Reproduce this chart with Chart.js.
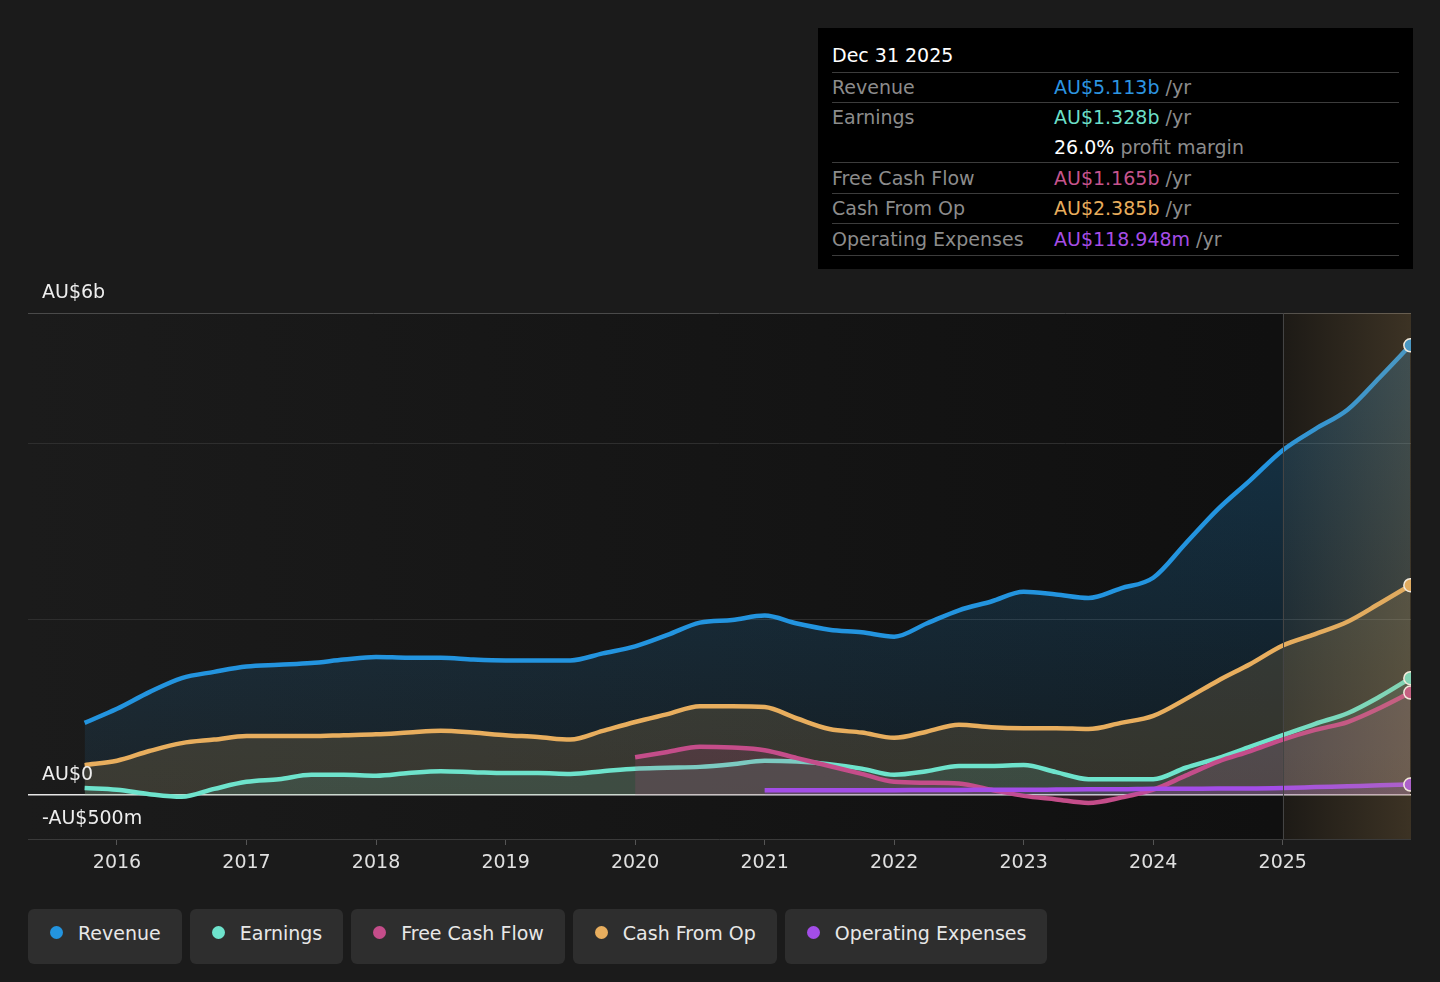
<!DOCTYPE html>
<html>
<head>
<meta charset="utf-8">
<script src="https://cdn.jsdelivr.net/npm/chart.js@4.4.1/dist/chart.umd.min.js"></script>
<style>
html, body { margin: 0; padding: 0; background: #1b1b1b; width: 1440px; height: 982px; overflow: hidden; font-family: "DejaVu Sans", sans-serif; }
#wrap { position: absolute; left: 0; top: 0; width: 1440px; height: 880px; }
#box { position: absolute; left: 818px; top: 28px; width: 595px; height: 241px; background: #000; box-sizing: border-box; padding: 12px 14px 0 14px; font-size: 19px; color: #8c8c8c; }
#box .title { color: #fff; line-height: 30px; margin-bottom: 2px; }
#box .row { border-top: 1px solid #3c3c3c; display: flex; }
#box .row.last { border-bottom: 1px solid #3c3c3c; }
#box .lab { width: 222px; }
#box .val div { white-space: nowrap; }
#legend { position: absolute; left: 28px; top: 909px; display: flex; gap: 8px; }
#legend .pill { height: 55px; box-sizing: border-box; background: #2e2e2e; border-radius: 6px; display: flex; align-items: center; padding: 0 21px 8px 22px; gap: 15px; color: #e8e8e8; font-size: 19px; }
#legend .dot { width: 13px; height: 13px; border-radius: 50%; }
</style>
</head>
<body>
<div id="wrap"><canvas id="chart" width="1440" height="880"></canvas></div>

<div id="box">
  <div class="title">Dec 31 2025</div>
  <div class="row" style="height:29px;line-height:29px"><div class="lab">Revenue</div><div class="val"><div><span style="color:#2d95e0">AU$5.113b</span> /yr</div></div></div>
  <div class="row" style="height:59px;line-height:29.5px"><div class="lab">Earnings</div><div class="val"><div><span style="color:#6cdfc7">AU$1.328b</span> /yr</div><div><span style="color:#fff">26.0%</span> profit margin</div></div></div>
  <div class="row" style="height:30px;line-height:30px"><div class="lab">Free Cash Flow</div><div class="val"><div><span style="color:#c6548d">AU$1.165b</span> /yr</div></div></div>
  <div class="row" style="height:29px;line-height:29px"><div class="lab">Cash From Op</div><div class="val"><div><span style="color:#e8ad5c">AU$2.385b</span> /yr</div></div></div>
  <div class="row last" style="height:31px;line-height:31px"><div class="lab">Operating Expenses</div><div class="val"><div><span style="color:#a64de6">AU$118.948m</span> /yr</div></div></div>
</div>

<div id="legend"></div>

<script>
// quarter ends as decimal years, Sep 2015 .. Dec 2025
const quarters = [2015.75,
  2016.0, 2016.25, 2016.5, 2016.75,
  2017.0, 2017.25, 2017.5, 2017.75,
  2018.0, 2018.25, 2018.5, 2018.75,
  2019.0, 2019.25, 2019.5, 2019.75,
  2020.0, 2020.25, 2020.5, 2020.75,
  2021.0, 2021.25, 2021.5, 2021.75,
  2022.0, 2022.25, 2022.5, 2022.75,
  2023.0, 2023.25, 2023.5, 2023.75,
  2024.0, 2024.25, 2024.5, 2024.75,
  2025.0, 2025.25, 2025.5, 2025.75,
  2025.985];

// values in AU$ billions
const revenue = [0.82,
  0.98, 1.17, 1.33, 1.40,
  1.46, 1.48, 1.50, 1.54,
  1.57, 1.56, 1.56, 1.54,
  1.53, 1.53, 1.53, 1.61,
  1.69, 1.82, 1.96, 1.99,
  2.04, 1.95, 1.88, 1.85,
  1.80, 1.95, 2.10, 2.20,
  2.31, 2.28, 2.24, 2.35,
  2.47, 2.86, 3.25, 3.58,
  3.92, 4.16, 4.38, 4.75,
  5.113];

const cashFromOp = [0.34,
  0.39, 0.50, 0.59, 0.63,
  0.67, 0.67, 0.67, 0.68,
  0.69, 0.71, 0.73, 0.71,
  0.68, 0.66, 0.63, 0.73,
  0.83, 0.92, 1.01, 1.01,
  1.00, 0.87, 0.75, 0.71,
  0.65, 0.72, 0.80, 0.77,
  0.76, 0.76, 0.75, 0.82,
  0.90, 1.09, 1.30, 1.49,
  1.70, 1.83, 1.97, 2.18,
  2.385];

const earnings = [0.08,
  0.06, 0.01, -0.02, 0.07,
  0.15, 0.18, 0.23, 0.23,
  0.22, 0.25, 0.27, 0.26,
  0.25, 0.25, 0.24, 0.27,
  0.30, 0.31, 0.32, 0.35,
  0.39, 0.38, 0.35, 0.30,
  0.23, 0.27, 0.33, 0.33,
  0.34, 0.26, 0.18, 0.18,
  0.18, 0.31, 0.42, 0.55,
  0.68, 0.81, 0.93, 1.12,
  1.328];

const freeCashFlow = [null,
  null, null, null, null,
  null, null, null, null,
  null, null, null, null,
  null, null, null, null,
  0.43, 0.49, 0.55, 0.54,
  0.51, 0.42, 0.33, 0.24,
  0.15, 0.14, 0.13, 0.06,
  -0.01, -0.05, -0.09, -0.03,
  0.06, 0.22, 0.38, 0.50,
  0.63, 0.74, 0.83, 0.99,
  1.165];

const opExpenses = [null,
  null, null, null, null,
  null, null, null, null,
  null, null, null, null,
  null, null, null, null,
  null, null, null, null,
  0.055, 0.055, 0.055, 0.055,
  0.055, 0.058, 0.058, 0.06,
  0.06, 0.062, 0.065, 0.065,
  0.07, 0.07, 0.075, 0.075,
  0.08, 0.09, 0.10, 0.11,
  0.119];

const yearTicks = [2016, 2017, 2018, 2019, 2020, 2021, 2022, 2023, 2024, 2025];
const yGrid = [-0.5, 0, 2, 4, 5.48];
const yLabels = ['AU$6b', 'AU$0', '-AU$500m'];
const yLabelAt = [5.48, 0, -0.5];
const highlightFrom = 2025;

const FONT = '"DejaVu Sans", sans-serif';

const colors = {
    revenue: '#2394df',
    earnings: '#6ee3cc',
    fcf: '#c44d8a',
    cfo: '#e8ae5e',
    opex: '#a34de8'
};

// revenue fill fades from the top of the plot down to zero
function revenueFill(c) {
    const chart = c.chart;
    const a = chart.chartArea;
    if (!a) return 'rgba(35,148,223,0.15)';
    const zero = chart.scales.y.getPixelForValue(0);
    const g = chart.ctx.createLinearGradient(0, a.top, 0, zero);
    g.addColorStop(0, 'rgba(35,148,223,0.30)');
    g.addColorStop(1, 'rgba(35,148,223,0.08)');
    return g;
}

function series(label, values, color, fill) {
    return {
        label: label,
        data: values.map((v, i) => ({ x: quarters[i], y: v })).filter(p => p.y !== null),
        borderColor: color,
        backgroundColor: fill,
        fill: 'origin',
        borderWidth: 4.5,
        cubicInterpolationMode: 'monotone',
        pointRadius: c => c.dataIndex === c.dataset.data.length - 1 ? 6.5 : 0,
        pointBackgroundColor: color,
        pointBorderColor: '#ffffff',
        pointBorderWidth: 1.5,
        clip: 0
    };
}

const backdrop = {
    id: 'backdrop',
    beforeDraw(chart) {
        const { ctx, chartArea: a } = chart;
        ctx.save();
        const g = ctx.createLinearGradient(a.left, 0, a.right, 0);
        g.addColorStop(0, '#1b1b1b');
        g.addColorStop(0.9, '#101010');
        ctx.fillStyle = g;
        ctx.fillRect(a.left, a.top, a.width, a.height);
        ctx.restore();
    },
    afterDatasetsDraw(chart) {
        const { ctx, chartArea: a, scales: { x, y } } = chart;
        ctx.save();
        const fx = x.getPixelForValue(highlightFrom);
        const h = ctx.createLinearGradient(fx, 0, a.right, 0);
        h.addColorStop(0, 'rgba(200,160,100,0.07)');
        h.addColorStop(1, 'rgba(200,160,100,0.24)');
        ctx.fillStyle = h;
        ctx.fillRect(fx, a.top, a.right - fx, a.height);
        ctx.strokeStyle = '#444444';
        ctx.lineWidth = 1;
        ctx.beginPath();
        ctx.moveTo(Math.round(fx) + 0.5, a.top);
        ctx.lineTo(Math.round(fx) + 0.5, a.bottom);
        ctx.stroke();

        ctx.fillStyle = '#eeeeee';
        ctx.font = '19px ' + FONT;
        ctx.textBaseline = 'middle';
        ctx.textAlign = 'left';
        yLabels.forEach((t, i) => {
            ctx.fillText(t, 42, y.getPixelForValue(yLabelAt[i]) - 20);
        });
        ctx.restore();
    }
};

new Chart(document.getElementById('chart'), {
    type: 'line',
    data: {
        datasets: [
            series('Operating Expenses', opExpenses, colors.opex, 'rgba(163,77,232,0.15)'),
            series('Free Cash Flow', freeCashFlow, colors.fcf, 'rgba(196,77,138,0.16)'),
            series('Earnings', earnings, colors.earnings, 'rgba(110,227,204,0.13)'),
            series('Cash From Op', cashFromOp, colors.cfo, 'rgba(232,174,94,0.16)'),
            series('Revenue', revenue, colors.revenue, revenueFill)
        ]
    },
    options: {
        responsive: false,
        animation: false,
        events: [],
        layout: { padding: { top: 313, left: 28, right: 29, bottom: 0 } },
        plugins: { legend: { display: false }, tooltip: { enabled: false } },
        scales: {
            x: {
                type: 'linear',
                min: 2015.313,
                max: 2025.99,
                afterBuildTicks: s => { s.ticks = yearTicks.map(v => ({ value: v })); },
                afterFit: s => { s.height = 41; },
                grid: { drawOnChartArea: false, drawTicks: true, tickLength: 6, color: '#555555' },
                border: { display: false },
                ticks: { color: '#e0e0e0', font: { family: FONT, size: 19 }, padding: 7, maxRotation: 0, autoSkip: false, callback: v => String(v) }
            },
            y: {
                min: -0.5,
                max: 5.48,
                afterBuildTicks: s => { s.ticks = yGrid.map(v => ({ value: v })); },
                afterFit: s => { s.width = 0; },
                ticks: { display: false },
                border: { display: false },
                grid: {
                    drawTicks: false,
                    color: c => c.tick.value === 0 ? '#e6e6e6' : (c.tick.value === 5.48 ? '#4a4a4a' : (c.tick.value === -0.5 ? '#3a3a3a' : '#2e2e2e')),
                    lineWidth: c => c.tick.value === 0 ? 1.5 : 1
                }
            }
        }
    },
    plugins: [backdrop]
});

const legendItems = [
    ['Revenue', colors.revenue],
    ['Earnings', colors.earnings],
    ['Free Cash Flow', colors.fcf],
    ['Cash From Op', colors.cfo],
    ['Operating Expenses', colors.opex]
];
const legend = document.getElementById('legend');
legendItems.forEach(([name, c]) => {
    const p = document.createElement('div');
    p.className = 'pill';
    p.innerHTML = '<span class="dot" style="background:' + c + '"></span><span>' + name + '</span>';
    legend.appendChild(p);
});
</script>
</body>
</html>
